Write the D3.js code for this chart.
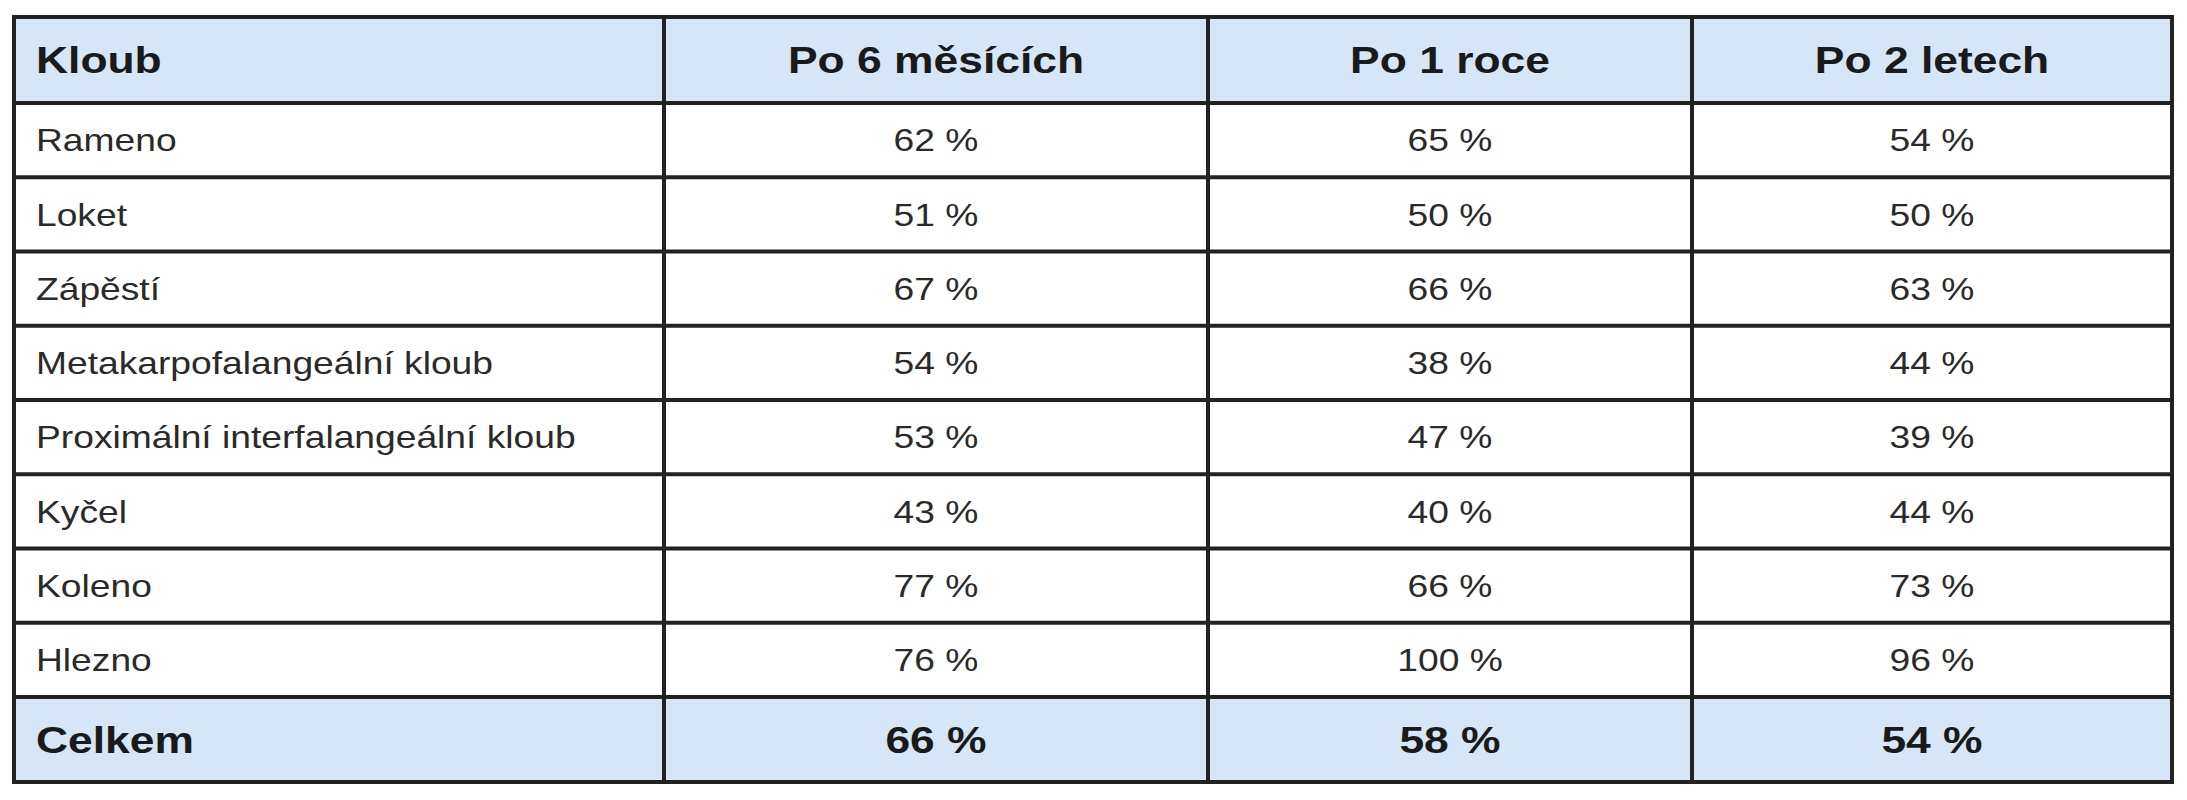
<!DOCTYPE html>
<html><head><meta charset="utf-8">
<script src="https://cdn.jsdelivr.net/npm/d3@7"></script>
<style>body{margin:0;background:#fff}</style>
</head><body><svg id="tbl"></svg>
<script>
const columns = ["Kloub", "Po 6 měsících", "Po 1 roce", "Po 2 letech"];
const joints = ["Rameno", "Loket", "Zápěstí", "Metakarpofalangeální kloub",
    "Proximální interfalangeální kloub", "Kyčel", "Koleno", "Hlezno"];
const after6m = [62, 51, 67, 54, 53, 43, 77, 76];
const after1y = [65, 50, 66, 38, 47, 40, 66, 100];
const after2y = [54, 50, 63, 44, 39, 44, 73, 96];
const totalLabel = "Celkem";
const totals = [66, 58, 54];

const W = 2187, H = 800;
const svg = d3.select("#tbl").attr("width", W).attr("height", H);
const sx = 1.2; // text in the reference is horizontally stretched

// column edges
const xEdges = [14, 664, 1208, 1692, 2172];
const yHead = [17, 103];
const yData = d3.scaleLinear().domain([0, 8]).range([103, 697]);
const yTotal = [697, 782];

const rows = [];
rows.push({y0: yHead[0], y1: yHead[1], cells: columns, bold: true, fill: "#d6e6f6"});
joints.forEach((j, i) => rows.push({
    y0: yData(i), y1: yData(i + 1), bold: false, fill: "#fff",
    cells: [j, after6m[i] + " %", after1y[i] + " %", after2y[i] + " %"]
}));
rows.push({y0: yTotal[0], y1: yTotal[1], bold: true, fill: "#d6e6f6",
    cells: [totalLabel].concat(totals.map(v => v + " %"))});

const g = svg.selectAll("g.row").data(rows).enter().append("g").attr("class", "row");

g.append("rect")
    .attr("x", xEdges[0]).attr("width", xEdges[4] - xEdges[0])
    .attr("y", d => d.y0).attr("height", d => d.y1 - d.y0)
    .attr("fill", d => d.fill);

g.each(function (d) {
    d3.select(this).selectAll("text").data(d.cells).enter().append("text")
        .attr("transform", (c, i) => {
            const x = i === 0 ? xEdges[0] + 22 : (xEdges[i] + xEdges[i + 1]) / 2;
            return `translate(${x},${(d.y0 + d.y1) / 2}) scale(${sx},1)`;
        })
        .attr("dy", "0.36em")
        .attr("text-anchor", (c, i) => i === 0 ? "start" : "middle")
        .attr("font-family", "'Liberation Sans', Arial, sans-serif")
        .attr("font-size", d.bold ? 37 : 31)
        .attr("font-weight", d.bold ? "bold" : "normal")
        .attr("fill", d.bold ? "#1a1a1a" : "#2a2a2a")
        .text(c => c);
});

const hLines = [yHead[0], yHead[1]].concat(d3.range(1, 9).map(yData), [yTotal[1]]);
svg.selectAll("line.h").data(hLines).enter().append("line")
    .attr("x1", xEdges[0]).attr("x2", xEdges[4])
    .attr("y1", d => d).attr("y2", d => d)
    .attr("stroke", "#222").attr("stroke-width", 4);
svg.selectAll("line.v").data(xEdges).enter().append("line")
    .attr("x1", d => d).attr("x2", d => d)
    .attr("y1", yHead[0] - 2).attr("y2", yTotal[1] + 2)
    .attr("stroke", "#222").attr("stroke-width", 4);
</script>
</body></html>
